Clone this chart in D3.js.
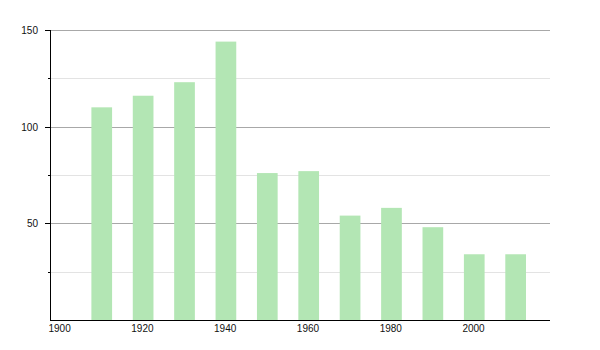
<!DOCTYPE html>
<html><head><meta charset="utf-8">
<script src="https://cdn.jsdelivr.net/npm/d3@7"></script>
<style>body{margin:0;background:#fff}svg text{font-family:"Liberation Sans",Arial,Helvetica,sans-serif;font-size:10px;fill:#111}</style>
</head><body>
<svg id="c" width="600" height="350"></svg>
<script>
const years = [1910,1920,1930,1940,1950,1960,1970,1980,1990,2000,2010];
const values = [110,116,123,144,76,77,54,58,48,34,34];
const xTickLabels = [1900,1920,1940,1960,1980,2000];
const yMajorTicks = [50,100,150];
const yMinorTicks = [25,75,125];

const svg = d3.select("#c");
const mLeft = 50, mRight = 550, mTop = 30, mBottom = 320;
const x = d3.scaleLinear().domain([1900, 2020.8]).range([mLeft, mRight]);
const y = d3.scaleLinear().domain([0,150]).range([mBottom, mTop]);

// minor grid
svg.append("g").selectAll("line").data(yMinorTicks).join("line")
  .attr("x1", mLeft).attr("x2", mRight)
  .attr("y1", d=>Math.round(y(d))+0.5).attr("y2", d=>Math.round(y(d))+0.5)
  .attr("stroke","#e3e3e3").attr("stroke-width",1);
// major grid
svg.append("g").selectAll("line").data(yMajorTicks).join("line")
  .attr("x1", mLeft).attr("x2", mRight)
  .attr("y1", d=>Math.round(y(d))+0.5).attr("y2", d=>Math.round(y(d))+0.5)
  .attr("stroke","#a8a8a8").attr("stroke-width",1);

// bars
const barW = x(1905) - x(1900);
svg.append("g").selectAll("rect").data(years).join("rect")
  .attr("x", d=>x(d)).attr("width", barW)
  .attr("y", (d,i)=>y(values[i])).attr("height", (d,i)=>y(0)-y(values[i]))
  .attr("fill","#b3e6b4");

// y axis
const yAxis = svg.append("g");
yAxis.append("line").attr("x1",mLeft+0.5).attr("x2",mLeft+0.5).attr("y1",mTop).attr("y2",mBottom)
  .attr("stroke","#000");
yAxis.selectAll(".maj").data(yMajorTicks).join("line").attr("class","maj")
  .attr("x1",mLeft-5).attr("x2",mLeft).attr("y1",d=>Math.round(y(d))+0.5).attr("y2",d=>Math.round(y(d))+0.5)
  .attr("stroke","#000");
yAxis.selectAll(".min").data(yMinorTicks).join("line").attr("class","min")
  .attr("x1",mLeft-2).attr("x2",mLeft).attr("y1",d=>Math.round(y(d))+0.5).attr("y2",d=>Math.round(y(d))+0.5)
  .attr("stroke","#000");
yAxis.selectAll("text").data(yMajorTicks).join("text")
  .attr("x",38).attr("y",d=>y(d)+4).attr("text-anchor","end").text(d=>d);

// x axis
const xAxis = svg.append("g");
xAxis.append("line").attr("x1",mLeft).attr("x2",mRight).attr("y1",mBottom+0.5).attr("y2",mBottom+0.5)
  .attr("stroke","#000");
xAxis.selectAll("text").data(xTickLabels).join("text")
  .attr("x",d=>x(d)-1.5).attr("y",332).attr("text-anchor","start").text(d=>d);
</script>
</body></html>
